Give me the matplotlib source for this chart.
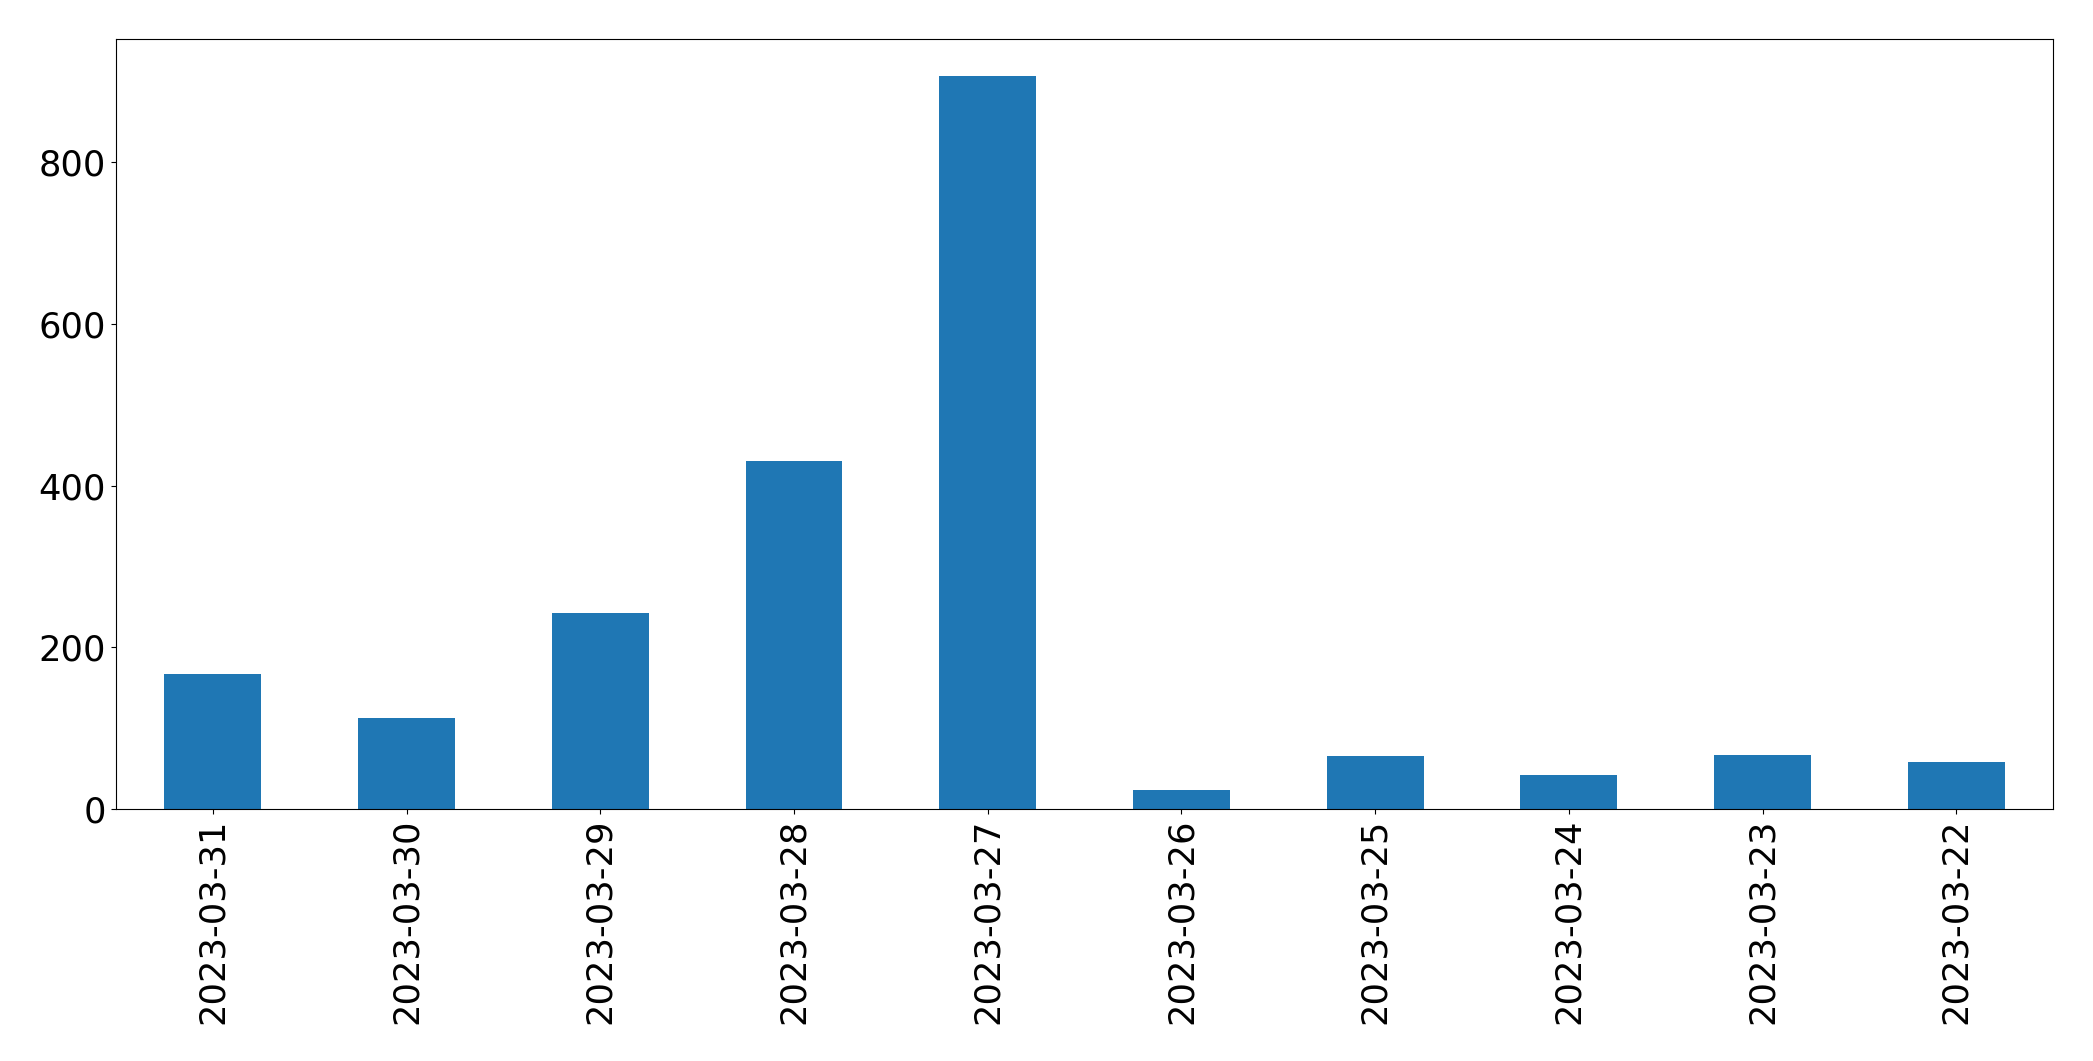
import matplotlib
matplotlib.use("Agg")
import matplotlib.pyplot as plt
import pandas as pd

dates = ["2023-03-31", "2023-03-30", "2023-03-29", "2023-03-28", "2023-03-27",
         "2023-03-26", "2023-03-25", "2023-03-24", "2023-03-23", "2023-03-22"]
counts = [167, 113, 243, 430, 907, 24, 66, 42, 67, 58]

series = pd.Series(counts, index=dates)

fig = plt.figure(figsize=(20.93, 10.61), dpi=100)
ax = fig.add_axes([0.0554, 0.2375, 0.9256, 0.7255])
series.plot(kind="bar", ax=ax, color="#1f77b4", fontsize=25.4)
ax.tick_params(axis="both", labelsize=25.4)

fig.savefig("out.png", dpi=100)
